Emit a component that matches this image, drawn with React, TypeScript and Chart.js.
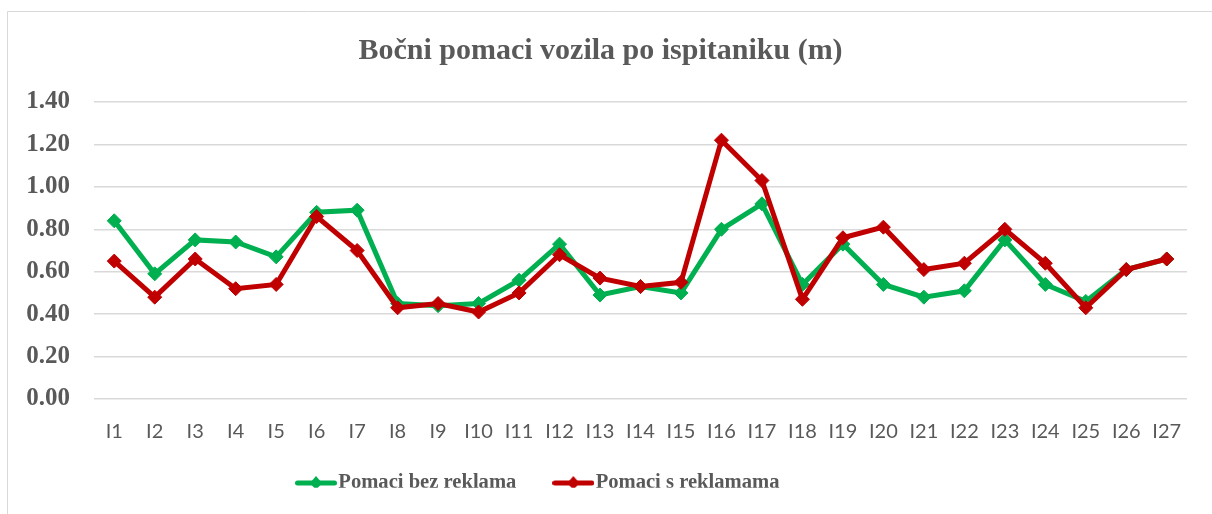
import React, { useEffect, useRef } from "react";
import { Chart, registerables } from "chart.js";

Chart.register(...registerables);

const titleText = "Bočni pomaci vozila po ispitaniku (m)";
const categories = [
  "I1", "I2", "I3", "I4", "I5", "I6", "I7", "I8", "I9", "I10", "I11", "I12", "I13", "I14",
  "I15", "I16", "I17", "I18", "I19", "I20", "I21", "I22", "I23", "I24", "I25", "I26", "I27",
];
const seriesNames = ["Pomaci bez reklama", "Pomaci s reklamama"];
const withoutAds = [
  0.84, 0.59, 0.75, 0.74, 0.67, 0.88, 0.89, 0.45, 0.44, 0.45, 0.56, 0.73, 0.49, 0.53,
  0.5, 0.8, 0.92, 0.54, 0.73, 0.54, 0.48, 0.51, 0.75, 0.54, 0.46, 0.61, 0.66,
];
const withAds = [
  0.65, 0.48, 0.66, 0.52, 0.54, 0.86, 0.7, 0.43, 0.45, 0.41, 0.5, 0.68, 0.57, 0.53,
  0.55, 1.22, 1.03, 0.47, 0.76, 0.81, 0.61, 0.64, 0.8, 0.64, 0.43, 0.61, 0.66,
];
const yMin = 0;
const yMax = 1.4;
const yStep = 0.2;

const GREEN = "#00B050";
const RED = "#C00000";
const TEXT = "#595959";
const GRID = "#D9D9D9";

function legendSwatch(color: string): HTMLCanvasElement {
  const c = document.createElement("canvas");
  c.width = 42;
  c.height = 16;
  const ctx = c.getContext("2d")!;
  ctx.strokeStyle = color;
  ctx.lineWidth = 5;
  ctx.lineCap = "round";
  ctx.beginPath();
  ctx.moveTo(2.5, 8);
  ctx.lineTo(39.5, 8);
  ctx.stroke();
  ctx.fillStyle = color;
  ctx.beginPath();
  ctx.moveTo(21, 1);
  ctx.lineTo(27, 8);
  ctx.lineTo(21, 15);
  ctx.lineTo(15, 8);
  ctx.closePath();
  ctx.fill();
  return c;
}

const framePlugin = {
  id: "frame",
  beforeDraw(chart: any) {
    const { ctx, width, height } = chart;
    ctx.save();
    ctx.fillStyle = "#FFFFFF";
    ctx.fillRect(0, 0, width, height);
    ctx.strokeStyle = GRID;
    ctx.lineWidth = 1;
    ctx.beginPath();
    ctx.moveTo(7.5, height);
    ctx.lineTo(7.5, 11.5);
    ctx.lineTo(width, 11.5);
    ctx.stroke();
    ctx.restore();
  },
};

const legendPlacePlugin = {
  id: "legendPlace",
  afterLayout(chart: any) {
    const lg = chart.legend;
    if (!lg) return;
    const pad = lg.options.labels.padding;
    const fs = lg.options.labels.font.size;
    lg.left = 304 - pad;
    lg.right = chart.width;
    lg.top = 483 - pad - fs / 2;
    lg.bottom = lg.top + 60;
  },
};

export default function App() {
  const ref = useRef<HTMLCanvasElement | null>(null);

  useEffect(() => {
    if (!ref.current) return;
    const chart = new Chart(ref.current, {
      type: "line",
      data: {
        labels: categories,
        datasets: [
          {
            label: seriesNames[0],
            data: withoutAds,
            borderColor: GREEN,
            backgroundColor: GREEN,
            borderWidth: 5,
            pointStyle: "rectRot",
            pointRadius: 7,
            pointBorderWidth: 1,
            pointBackgroundColor: GREEN,
            pointBorderColor: GREEN,
            tension: 0,
            order: 1,
          },
          {
            label: seriesNames[1],
            data: withAds,
            borderColor: RED,
            backgroundColor: RED,
            borderWidth: 5,
            pointStyle: "rectRot",
            pointRadius: 7,
            pointBorderWidth: 1,
            pointBackgroundColor: RED,
            pointBorderColor: RED,
            tension: 0,
            order: 0,
          },
        ],
      },
      options: {
        responsive: false,
        animation: false,
        devicePixelRatio: 1,
        layout: { padding: { left: 14, right: 25, top: 0, bottom: 35 } },
        plugins: {
          title: {
            display: true,
            text: titleText,
            color: TEXT,
            font: { family: "'Liberation Serif', 'Times New Roman', serif", size: 30, weight: "bold" },
            padding: { top: 33, bottom: 33 },
          },
          legend: {
            position: "bottom",
            align: "start",
            maxHeight: 40,
            labels: {
              usePointStyle: true,
              pointStyleWidth: 24,
              padding: 45,
              color: TEXT,
              font: { family: "'Liberation Serif', 'Times New Roman', serif", size: 20.6, weight: "bold" },
              sort: (a: any, b: any) => a.datasetIndex - b.datasetIndex,
              generateLabels: (chart: any) =>
                chart.data.datasets.map((ds: any, i: number) => ({
                  text: ds.label,
                  fillStyle: ds.borderColor,
                  strokeStyle: ds.borderColor,
                  fontColor: TEXT,
                  lineWidth: 0,
                  pointStyle: legendSwatch(ds.borderColor),
                  hidden: false,
                  datasetIndex: i,
                })),
            },
          },
          tooltip: { enabled: false },
        },
        scales: {
          x: {
            type: "category",
            offset: true,
            grid: { display: false, drawTicks: false },
            border: { display: false },
            ticks: {
              color: TEXT,
              font: { family: "Lato, 'Open Sans', sans-serif", size: 20 },
              padding: 21,
              maxRotation: 0,
              autoSkip: false,
            },
            afterFit: (s: any) => {
              s.height = 40;
            },
          },
          y: {
            min: yMin,
            max: yMax,
            grid: { color: GRID, lineWidth: 1.5, drawTicks: false },
            border: { display: false },
            ticks: {
              stepSize: yStep,
              color: TEXT,
              padding: 24,
              font: { family: "'Liberation Serif', 'Times New Roman', serif", size: 25, weight: "bold" },
              callback: (v: any) => Number(v).toFixed(2),
            },
            afterFit: (s: any) => {
              s.width = 80;
            },
          },
        },
      },
      plugins: [framePlugin, legendPlacePlugin],
    });
    return () => chart.destroy();
  }, []);

  return (
    <div style={{ position: "fixed", left: 0, top: 0, width: 1212, height: 514, background: "#fff" }}>
      <canvas ref={ref} width={1212} height={514} style={{ width: 1212, height: 514, display: "block" }} />
    </div>
  );
}
